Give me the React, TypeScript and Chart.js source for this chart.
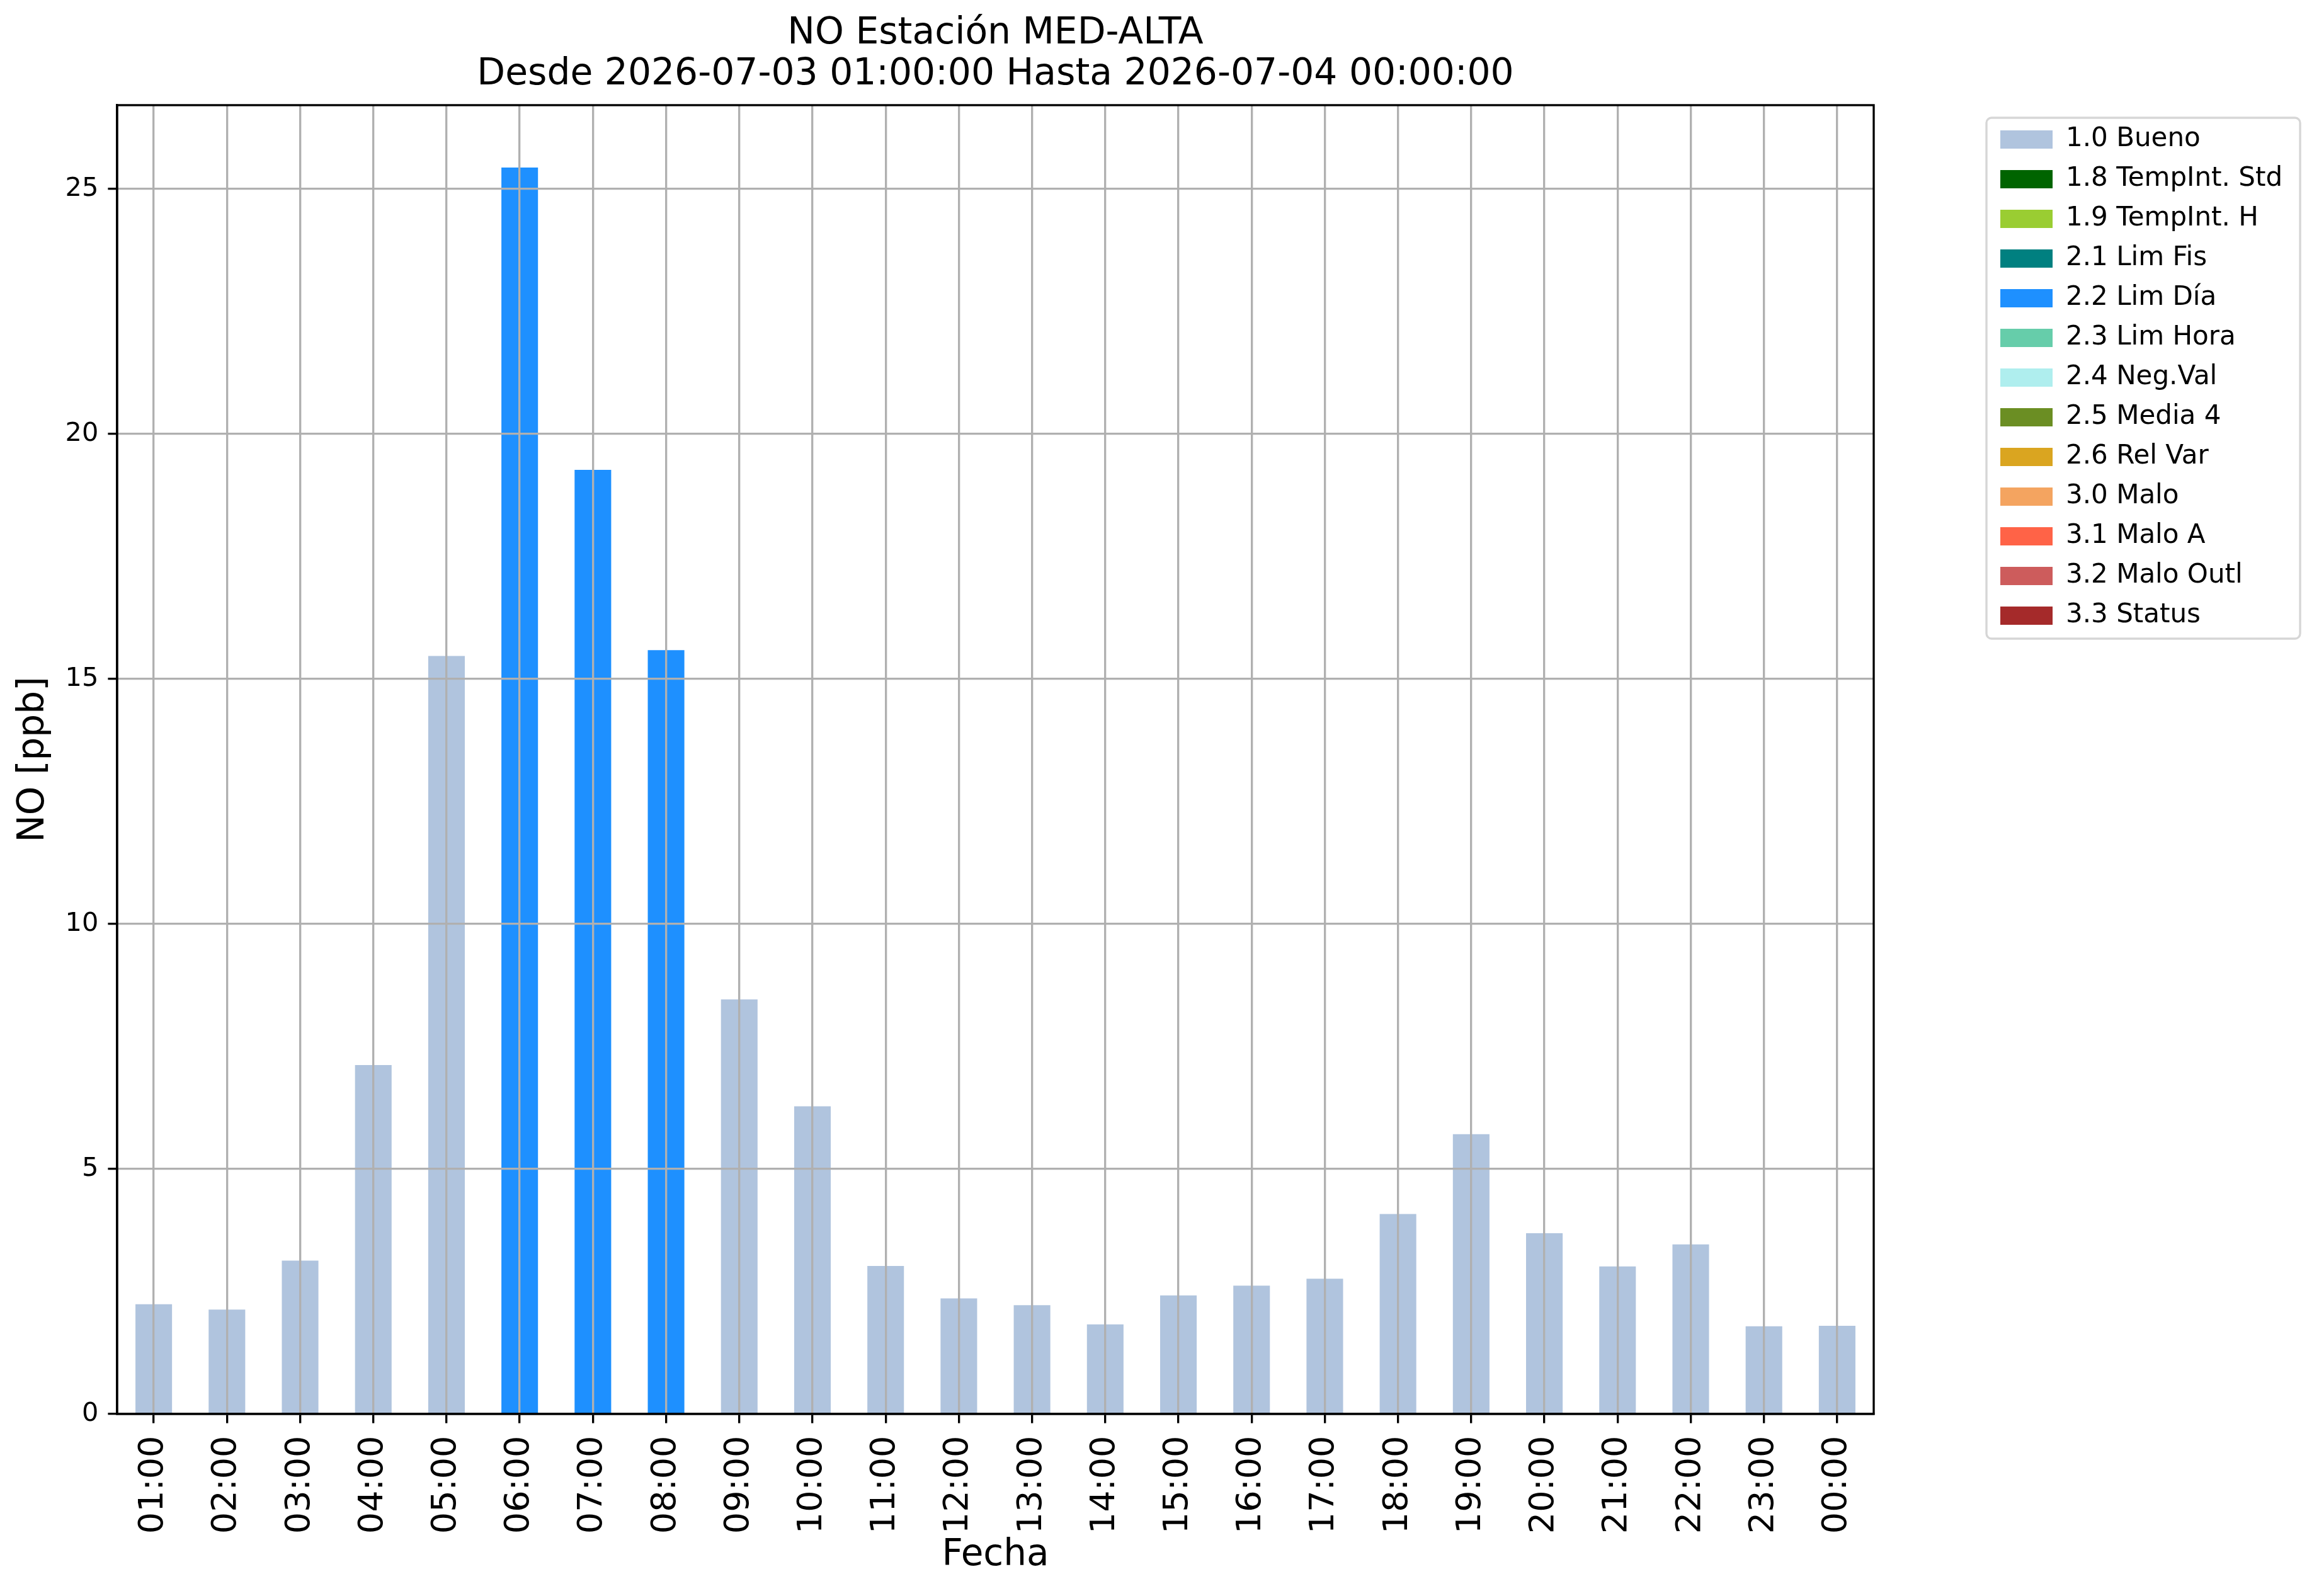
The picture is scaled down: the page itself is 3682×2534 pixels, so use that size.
import React, { useEffect, useRef } from 'react';
import { Chart, registerables } from 'chart.js';

Chart.register(...registerables);

const CANVAS_W = 3682;
const CANVAS_H = 2534;

// ---- data ----
const hours = [
  '01:00', '02:00', '03:00', '04:00', '05:00', '06:00', '07:00', '08:00',
  '09:00', '10:00', '11:00', '12:00', '13:00', '14:00', '15:00', '16:00',
  '17:00', '18:00', '19:00', '20:00', '21:00', '22:00', '23:00', '00:00',
];

const noValues = [
  2.24, 2.13, 3.13, 7.12, 15.47, 25.44, 19.27, 15.59,
  8.46, 6.28, 3.02, 2.36, 2.22, 1.83, 2.42, 2.62,
  2.76, 4.08, 5.71, 3.69, 3.01, 3.46, 1.79, 1.80,
];

const hourFlags = [
  '1.0', '1.0', '1.0', '1.0', '1.0', '2.2', '2.2', '2.2',
  '1.0', '1.0', '1.0', '1.0', '1.0', '1.0', '1.0', '1.0',
  '1.0', '1.0', '1.0', '1.0', '1.0', '1.0', '1.0', '1.0',
];

const flagLabels = [
  '1.0 Bueno', '1.8 TempInt. Std', '1.9 TempInt. H', '2.1 Lim Fis', '2.2 Lim Día',
  '2.3 Lim Hora', '2.4 Neg.Val', '2.5 Media 4', '2.6 Rel Var', '3.0 Malo',
  '3.1 Malo A', '3.2 Malo Outl', '3.3 Status',
];

const flagColors = [
  '#b0c4de', '#006400', '#9acd32', '#008080', '#1e90ff',
  '#66cdaa', '#afeeee', '#6b8e23', '#daa520', '#f4a460',
  '#ff6347', '#cd5c5c', '#a52a2a',
];

const titleLines = ['NO Estación MED-ALTA', 'Desde 2026-07-03 01:00:00 Hasta 2026-07-04 00:00:00'];
const yAxisLabel = 'NO [ppb]';
const xAxisLabel = 'Fecha';
const yTickStep = 5;

// ---- styling constants ----
const FONT = 'DejaVu Sans';
const LINE_W = 3.33;
const GRID_COLOR = '#b0b0b0';
const TICK_LEN = 14.6;
const LEGEND_FONT = 42;
const LEGEND_PAD = 21;
const LEGEND_ITEM_X = 3176;
const LEGEND_ITEM_Y = 200.5;
const LEGEND_FRAME = { left: 3154, top: 187, right: 3652, bottom: 1014 };

const legendPlacer = {
  id: 'legendPlacer',
  afterLayout(chart: any) {
    const lg = chart.legend;
    if (!lg) return;
    const w = lg.width;
    const h = lg.height;
    lg.left = LEGEND_ITEM_X - LEGEND_PAD;
    lg.top = LEGEND_ITEM_Y - LEGEND_PAD;
    lg.right = lg.left + w;
    lg.bottom = lg.top + h;
  },
  beforeDraw(chart: any) {
    const ctx = chart.ctx;
    const f = LEGEND_FRAME;
    ctx.save();
    ctx.beginPath();
    if (ctx.roundRect) ctx.roundRect(f.left, f.top, f.right - f.left, f.bottom - f.top, 8);
    else ctx.rect(f.left, f.top, f.right - f.left, f.bottom - f.top);
    ctx.fillStyle = '#ffffff';
    ctx.fill();
    ctx.lineWidth = LINE_W;
    ctx.strokeStyle = '#d6d6d6';
    ctx.stroke();
    ctx.restore();
  },
};

const frameSpines = {
  id: 'frameSpines',
  afterDraw(chart: any) {
    const { ctx, chartArea } = chart;
    ctx.save();
    ctx.lineWidth = LINE_W;
    ctx.strokeStyle = '#000000';
    ctx.strokeRect(chartArea.left, chartArea.top, chartArea.right - chartArea.left, chartArea.bottom - chartArea.top);
    ctx.restore();
  },
};

export default function App() {
  const canvasRef = useRef<HTMLCanvasElement | null>(null);

  useEffect(() => {
    document.body.style.margin = '0';
    const canvas = canvasRef.current;
    if (!canvas) return;

    Chart.defaults.font.family = FONT;
    Chart.defaults.color = '#000000';

    const datasets = flagLabels.map((label, i) => {
      const code = label.split(' ')[0];
      return {
        label,
        data: noValues.map((v, j) => (hourFlags[j] === code ? v : null)),
        backgroundColor: flagColors[i],
        borderColor: flagColors[i],
        borderWidth: 0,
        barPercentage: 0.5,
        categoryPercentage: 1.0,
      };
    });

    const yMax = Math.max(...noValues) * 1.05;

    const chart = new Chart(canvas, {
      type: 'bar',
      data: { labels: hours, datasets },
      plugins: [legendPlacer, frameSpines],
      options: {
        responsive: false,
        maintainAspectRatio: false,
        devicePixelRatio: 1,
        animation: false,
        events: [],
        layout: { padding: { left: 0, top: 0, right: 707, bottom: 0 } },
        plugins: {
          tooltip: { enabled: false },
          title: {
            display: true,
            text: titleLines,
            fullSize: false,
            color: '#000000',
            font: { family: FONT, size: 58.3, weight: 'normal', lineHeight: 1.106 },
            padding: { top: 22, bottom: 16 },
          },
          legend: {
            display: true,
            position: 'chartArea',
            fullSize: false,
            align: 'start',
            labels: {
              boxWidth: 83,
              boxHeight: 29,
              padding: LEGEND_PAD,
              color: '#000000',
              font: { family: FONT, size: LEGEND_FONT },
            },
          },
        },
        scales: {
          x: {
            type: 'category',
            stacked: true,
            offset: true,
            afterFit: (s: any) => { s.height = 289; },
            grid: {
              display: true,
              offset: false,
              color: GRID_COLOR,
              lineWidth: LINE_W,
              drawTicks: true,
              tickLength: TICK_LEN,
              tickColor: '#000000',
              tickWidth: LINE_W,
              z: 1,
            },
            border: { display: true, color: '#000000', width: LINE_W, z: 2 },
            ticks: {
              autoSkip: false,
              minRotation: 90,
              maxRotation: 90,
              padding: 20,
              color: '#000000',
              font: { family: FONT, size: 54 },
            },
            title: {
              display: true,
              text: xAxisLabel,
              color: '#000000',
              font: { family: FONT, size: 58, lineHeight: 1 },
              padding: { top: 0, bottom: 35 },
            },
          },
          y: {
            type: 'linear',
            stacked: true,
            min: 0,
            max: yMax,
            afterFit: (s: any) => { s.width = 186; },
            grid: {
              display: true,
              color: GRID_COLOR,
              lineWidth: LINE_W,
              drawTicks: true,
              tickLength: TICK_LEN,
              tickColor: '#000000',
              tickWidth: LINE_W,
              z: 1,
            },
            border: { display: true, color: '#000000', width: LINE_W, z: 2 },
            ticks: {
              stepSize: yTickStep,
              includeBounds: false,
              padding: 15,
              color: '#000000',
              font: { family: FONT, size: 41.5 },
            },
            title: {
              display: true,
              text: yAxisLabel,
              color: '#000000',
              font: { family: FONT, size: 58, lineHeight: 1 },
              padding: { top: 25, bottom: 0 },
            },
          },
        },
      } as any,
    });

    return () => {
      chart.destroy();
    };
  }, []);

  return (
    <div style={{ width: CANVAS_W, height: CANVAS_H, background: '#ffffff' }}>
      <canvas
        ref={canvasRef}
        width={CANVAS_W}
        height={CANVAS_H}
        style={{ width: CANVAS_W, height: CANVAS_H, display: 'block' }}
      />
    </div>
  );
}
